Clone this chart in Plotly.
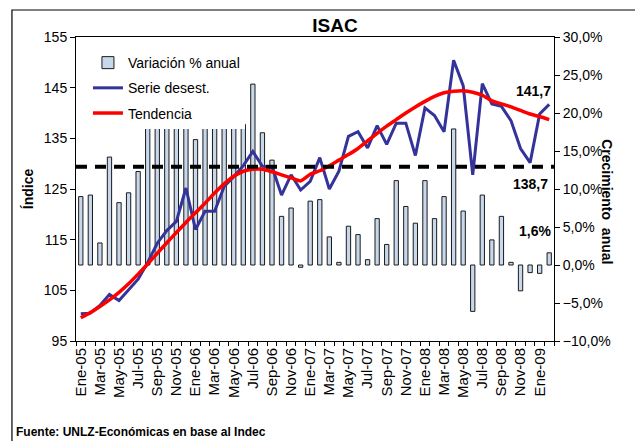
import plotly.graph_objects as go

# months Ene-05 .. Feb-09
meses = ["Ene", "Feb", "Mar", "Abr", "May", "Jun", "Jul", "Ago", "Sep", "Oct", "Nov", "Dic"]
fechas = [f"{m}-{a:02d}" for a in range(5, 10) for m in meses][:50]

# index, seasonally adjusted series
serie_desest = [100.4, 100.5, 102.0, 104.2, 103.0, 105.0, 107.2, 110.5, 114.3, 116.8,
				118.6, 125.2, 117.0, 120.6, 120.6, 125.5, 127.4, 129.6, 132.4, 129.5,
				129.4, 123.8, 127.8, 124.8, 126.5, 131.2, 125.0, 128.5, 135.4, 136.3,
				133.1, 137.5, 133.8, 138.0, 138.0, 131.6, 141.0, 139.5, 136.3, 150.4,
				145.4, 127.8, 145.8, 141.8, 141.3, 138.5, 133.0, 130.2, 139.8, 141.7]

# trend
tendencia = [99.6, 100.6, 101.8, 103.1, 104.6, 106.3, 108.2, 110.2, 112.3, 114.4,
			 116.4, 118.4, 120.3, 122.2, 124.2, 126.0, 127.5, 128.5, 128.9, 128.9,
			 128.4, 127.8, 127.2, 126.6, 127.9, 128.6, 129.6, 130.7, 131.8, 133.0,
			 134.5, 136.0, 137.4, 138.7, 140.0, 141.2, 142.3, 143.3, 144.0, 144.3,
			 144.4, 144.1, 143.5, 142.4, 141.8, 141.2, 140.5, 139.8, 139.3, 138.7]

# year on year variation (%)
variacion = [9.0, 9.2, 2.9, 14.2, 8.2, 9.5, 12.3, 19.5, 20.0, 19.5,
			 20.5, 19.5, 16.5, 20.0, 18.0, 20.5, 18.8, 18.5, 23.8, 17.4,
			 13.8, 6.4, 7.5, -0.3, 8.4, 8.6, 3.7, 0.35, 5.1, 4.0,
			 0.7, 6.1, 2.7, 11.1, 7.7, 5.5, 11.1, 6.1, 9.0, 17.9,
			 7.1, -6.1, 9.2, 3.3, 6.4, 0.35, -3.4, -1.0, -1.1, 1.6]

nivel_ref = 129.4
etiqueta_ref = "138,7"
etiqueta_serie = "141,7"
etiqueta_var = "1,6%"

tick_text = [f if i % 2 == 0 else "" for i, f in enumerate(fechas)]
fuente = "Arial, Liberation Sans, sans-serif"

fig = go.Figure()

#bars go on the primary (right, %) axis so the lines are drawn over them
fig.add_trace(go.Bar(
	x=fechas, y=variacion, name="Variación % anual",
	marker=dict(color="#C8D8EC", line=dict(color="#1a1a1a", width=1)),
	width=0.45, yaxis="y", legendgroup="a"
))
fig.add_trace(go.Scatter(
	x=fechas, y=serie_desest, name="Serie desest.", mode="lines",
	line=dict(color="#333399", width=3), yaxis="y2", legendgroup="b"
))
fig.add_trace(go.Scatter(
	x=fechas, y=tendencia, name="Tendencia", mode="lines",
	line=dict(color="#FF0000", width=3.5, shape="spline", smoothing=0.6),
	yaxis="y2", legendgroup="c"
))

# dashed reference level
fig.add_shape(type="line", xref="x domain", yref="y2", x0=0, x1=1,
			  y0=nivel_ref, y1=nivel_ref, layer="above",
			  line=dict(color="black", width=4, dash="11px,8px"))

# outer frame of the chart
fig.add_shape(type="rect", xref="paper", yref="paper",
			  x0=-0.134, x1=1.1715, y0=-0.34, y1=1.0888,
			  line=dict(color="black", width=1.2))

fig.add_annotation(x=fechas[-1], y=serie_desest[-1], xref="x", yref="y2",
				   text=f"<b>{etiqueta_serie}</b>", showarrow=False,
				   xanchor="right", yanchor="bottom", xshift=4, yshift=3,
				   font=dict(size=14, color="black"))
fig.add_annotation(x=fechas[-1], y=nivel_ref, xref="x", yref="y2",
				   text=f"<b>{etiqueta_ref}</b>", showarrow=False,
				   xanchor="right", yanchor="top", xshift=1, yshift=-7,
				   font=dict(size=14, color="black"))
fig.add_annotation(x=fechas[-1], y=variacion[-1], xref="x", yref="y",
				   text=f"<b>{etiqueta_var}</b>", showarrow=False,
				   xanchor="right", yanchor="bottom", xshift=4, yshift=12,
				   font=dict(size=14, color="black"))

# right axis title reads top to bottom
fig.add_annotation(x=1.1318, y=0.46, xref="paper", yref="paper",
				   text="<b>Crecimiento  anual</b>", textangle=90, showarrow=False,
				   font=dict(size=14, color="black"))

fig.add_annotation(x=-0.13, y=-0.299, xref="paper", yref="paper",
				   text="<b>Fuente: UNLZ-Económicas en base al Indec</b>",
				   showarrow=False, xanchor="left", yanchor="middle",
				   font=dict(size=12, color="black"))

# the page body adds an 8px offset, margins are shifted to compensate
fig.update_layout(
	width=643, height=441,
	margin=dict(l=68, r=97, t=29, b=108),
	paper_bgcolor="white", plot_bgcolor="white",
	font=dict(family=fuente, size=14, color="black"),
	separators=",.",
	bargap=0.5,
	title=dict(text="<b>ISAC</b>", x=0.5086, xanchor="center", y=0.9615, yanchor="middle",
			   font=dict(size=19, color="black")),
	showlegend=True,
	legend=dict(x=0.025, y=0.967, xanchor="left", yanchor="top", bgcolor="white",
				borderwidth=0, font=dict(size=14), tracegroupgap=4, itemwidth=30,
				traceorder="grouped"),
	xaxis=dict(
		type="category", tickvals=fechas, ticktext=tick_text, tickangle=-90,
		tickson="boundaries", ticks="outside", ticklen=4, tickcolor="black",
		showline=True, linecolor="black", linewidth=1, mirror=True,
		showgrid=False, tickfont=dict(size=15), automargin=False
	),
	xaxis2=dict(
		overlaying="x", anchor="y", side="bottom", range=[-0.5, 49.5],
		tickvals=[i - 0.5 for i in range(51)], ticks="inside", ticklen=4,
		tickcolor="black", showticklabels=False, showgrid=False, zeroline=False,
		showline=False
	),
	yaxis=dict(
		side="right", range=[-10, 30], dtick=5, tickformat=".1f", ticksuffix="%",
		ticks="outside", ticklen=5, tickcolor="black", showline=True,
		linecolor="black", linewidth=1, showgrid=False, zeroline=False,
		automargin=False
	),
	yaxis2=dict(
		overlaying="y", side="left", range=[95, 155], tick0=95, dtick=10,
		ticks="outside", ticklen=5, tickcolor="black", showline=True,
		linecolor="black", linewidth=1, showgrid=False, zeroline=False,
		title=dict(text="<b>Índice</b>", standoff=6, font=dict(size=14)),
		automargin=False
	),
)

fig.write_html("out.html")
